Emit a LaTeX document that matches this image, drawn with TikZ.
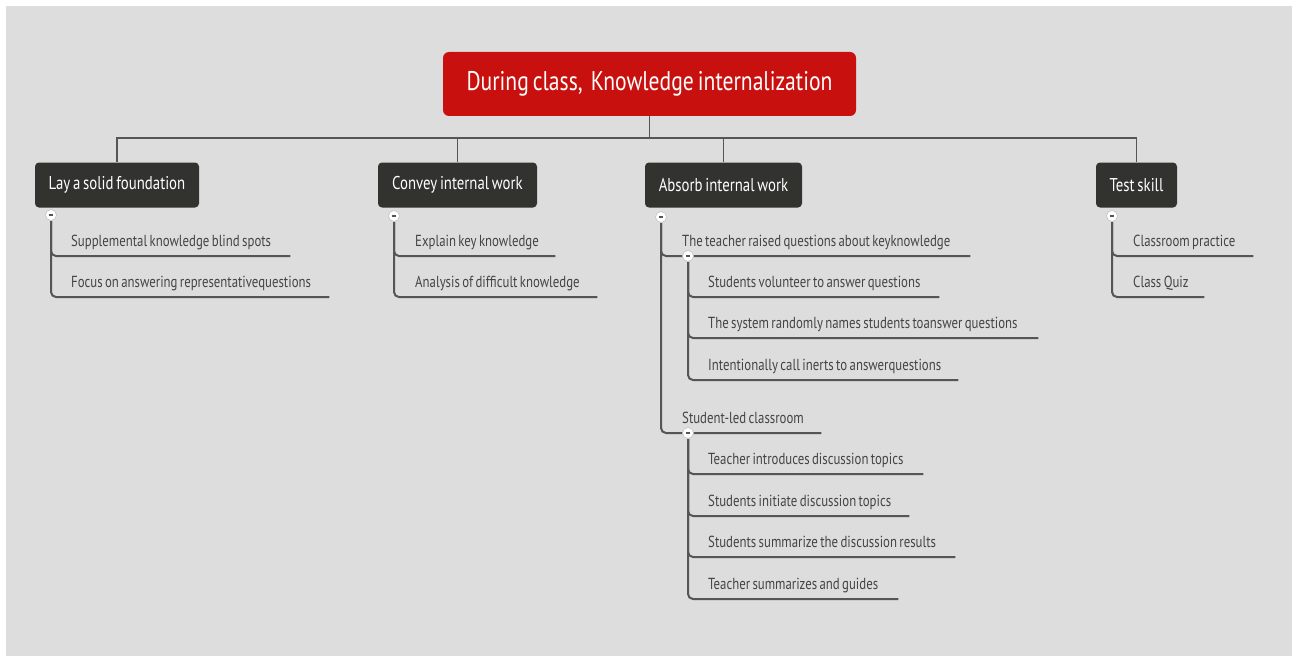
\documentclass[tikz,border=0pt]{standalone}
\usepackage{fontspec}
\setmainfont{PT Sans}[FakeStretch=0.8, WordSpace=0.7]
\definecolor{pagegray}{RGB}{221,221,221}
\definecolor{rootred}{RGB}{200,17,14}
\definecolor{topicdark}{RGB}{50,50,46}
\definecolor{linegray}{RGB}{85,85,85}
\definecolor{leafgray}{RGB}{68,68,68}
\pgfdeclarelayer{bg}
\pgfdeclarelayer{lines}
\pgfsetlayers{bg,lines,main}
% a leaf label set in a box of fixed width, so its underline ends where it should
\newcommand\leaftext[2]{\makebox[#1][l]{#2}}
\begin{document}
\begin{tikzpicture}[x=1pt,y=-1pt,
  link/.style={draw=linegray, line width=2pt, rounded corners=5pt},
  bus/.style={draw=linegray, line width=1.8pt},
  rootbox/.style={fill=rootred, rounded corners=6pt, text=white,
    font=\fontsize{27}{32}\selectfont, minimum width=413pt,
    minimum height=64pt, inner sep=0pt},
  topic/.style={fill=topicdark, rounded corners=4pt, text=white,
    font=\fontsize{18.5}{22}\selectfont, minimum height=45pt, inner sep=0pt},
  leaf/.style={anchor=south west, inner xsep=0pt, inner ysep=5.5pt,
    text height=12pt, text depth=4pt, text=leafgray,
    font=\fontsize{16}{19}\selectfont},
  fold/.style={circle, fill=white, draw=linegray!35, line width=0.6pt,
    minimum size=11pt, inner sep=0pt,
    path picture={\draw[linegray, line width=1.4pt]
      ([xshift=-2.4pt]path picture bounding box.center) --
      ([xshift=2.4pt]path picture bounding box.center);}}
]
\useasboundingbox (0,0) rectangle (1298,658);
\begin{pgfonlayer}{bg}
  \fill[white] (0,0) rectangle (1298,658);
  \fill[pagegray] (6,6) rectangle (1292,656);
\end{pgfonlayer}

% root and main branches
\node[rootbox] (root) at (649.5,84) {During class,\ \ Knowledge internalization};
\node[topic, minimum width=164pt] (lay) at (117,185) {Lay a solid foundation};
\node[topic, minimum width=159pt] (convey) at (457.5,185) {Convey internal work};
\node[topic, minimum width=157pt] (absorb) at (723.5,185) {Absorb internal work};
\node[topic, minimum width=81pt] (test) at (1136.5,185) {Test skill};
\coordinate (busline) at (0,138);

% fold markers
\node[fold] (flay) at (51,215) {};
\node[fold] (fconvey) at (394,216) {};
\node[fold] (fabsorb) at (661,217) {};
\node[fold] (ftest) at (1112,216) {};
\node[fold] (fteach) at (688,256) {};
\node[fold] (fstud) at (688,433) {};

% leaves: Lay a solid foundation
\node[leaf] (l1) at (71,256) {\leaftext{219pt}{Supplemental knowledge blind spots}};
\node[leaf] (l2) at (71,297) {\leaftext{258pt}{Focus on answering representativequestions}};
% leaves: Convey internal work
\node[leaf] (c1) at (415,256) {\leaftext{140pt}{Explain key knowledge}};
\node[leaf] (c2) at (415,297) {\leaftext{182pt}{Analysis of difficult knowledge}};
% leaves: Absorb internal work
\node[leaf] (a1) at (682,256) {\leaftext{288pt}{The teacher raised questions about keyknowledge}};
\node[leaf] (a2) at (682,433) {\leaftext{139pt}{Student-led classroom}};
\node[leaf] (a11) at (708,297) {\leaftext{231pt}{Students volunteer to answer questions}};
\node[leaf] (a12) at (708,338) {\leaftext{330pt}{The system randomly names students toanswer questions}};
\node[leaf] (a13) at (708,380) {\leaftext{250pt}{Intentionally call inerts to answerquestions}};
\node[leaf] (a21) at (708,474) {\leaftext{215pt}{Teacher introduces discussion topics}};
\node[leaf] (a22) at (708,516) {\leaftext{201pt}{Students initiate discussion topics}};
\node[leaf] (a23) at (708,557) {\leaftext{247pt}{Students summarize the discussion results}};
\node[leaf] (a24) at (708,599) {\leaftext{190pt}{Teacher summarizes and guides}};
% leaves: Test skill
\node[leaf] (t1) at (1133,256) {\leaftext{120pt}{Classroom practice}};
\node[leaf] (t2) at (1133,297) {\leaftext{71pt}{Class Quiz}};

\begin{pgfonlayer}{lines}
  \draw[bus] (root.south) -- (root.south |- busline);
  \draw[bus] (root.south |- busline) -| (lay.north);
  \draw[bus] (root.south |- busline) -| (convey.north);
  \draw[bus] (root.south |- busline) -| (absorb.north);
  \draw[bus] (root.south |- busline) -| (test.north);

  \draw[link] (flay) |- (l1.south east);
  \draw[link] (flay) |- (l2.south east);
  \draw[link] (fconvey) |- (c1.south east);
  \draw[link] (fconvey) |- (c2.south east);
  \draw[link] (fabsorb) |- (a1.south east);
  \draw[link] (fabsorb) |- (a2.south east);
  \draw[link] (fteach) |- (a11.south east);
  \draw[link] (fteach) |- (a12.south east);
  \draw[link] (fteach) |- (a13.south east);
  \draw[link] (fstud) |- (a21.south east);
  \draw[link] (fstud) |- (a22.south east);
  \draw[link] (fstud) |- (a23.south east);
  \draw[link] (fstud) |- (a24.south east);
  \draw[link] (ftest) |- (t1.south east);
  \draw[link] (ftest) |- (t2.south east);
\end{pgfonlayer}
\end{tikzpicture}
\end{document}
